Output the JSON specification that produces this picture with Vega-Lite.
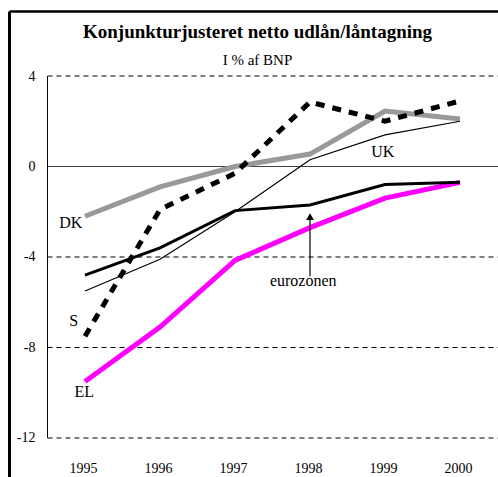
{
  "$schema": "https://vega.github.io/schema/vega-lite/v6.json",
  "width": 489,
  "height": 466,
  "padding": {"left": 9, "top": 11, "right": 0, "bottom": 0},
  "autosize": {"type": "none"},
  "background": "white",
  "config": {
    "view": {"stroke": null},
    "font": "Liberation Serif",
    "axis": {"labelFont": "Liberation Serif", "labelColor": "black", "grid": false, "ticks": false}
  },
  "title": {
    "text": "Konjunkturjusteret netto udlån/låntagning",
    "subtitle": "I % af BNP",
    "font": "Liberation Serif",
    "fontSize": 19,
    "fontWeight": "bold",
    "color": "black",
    "subtitleFont": "Liberation Serif",
    "subtitleFontSize": 15,
    "subtitleColor": "black",
    "subtitlePadding": 11,
    "anchor": "middle",
    "frame": "group",
    "orient": "top",
    "offset": -57,
    "dx": 4
  },
  "datasets": {
    "series": [
      {"series": "DK", "year": 1995, "value": -2.2},
      {"series": "DK", "year": 1996, "value": -0.9},
      {"series": "DK", "year": 1997, "value": 0.0},
      {"series": "DK", "year": 1998, "value": 0.55},
      {"series": "DK", "year": 1999, "value": 2.45},
      {"series": "DK", "year": 2000, "value": 2.1},
      {"series": "S", "year": 1995, "value": -7.5},
      {"series": "S", "year": 1996, "value": -1.9},
      {"series": "S", "year": 1997, "value": -0.3},
      {"series": "S", "year": 1998, "value": 2.85},
      {"series": "S", "year": 1999, "value": 2.0},
      {"series": "S", "year": 2000, "value": 2.9},
      {"series": "UK", "year": 1995, "value": -5.5},
      {"series": "UK", "year": 1996, "value": -4.1},
      {"series": "UK", "year": 1997, "value": -2.0},
      {"series": "UK", "year": 1998, "value": 0.3},
      {"series": "UK", "year": 1999, "value": 1.4},
      {"series": "UK", "year": 2000, "value": 2.0},
      {"series": "eurozonen", "year": 1995, "value": -4.8},
      {"series": "eurozonen", "year": 1996, "value": -3.6},
      {"series": "eurozonen", "year": 1997, "value": -1.95},
      {"series": "eurozonen", "year": 1998, "value": -1.7},
      {"series": "eurozonen", "year": 1999, "value": -0.8},
      {"series": "eurozonen", "year": 2000, "value": -0.7},
      {"series": "EL", "year": 1995, "value": -9.5},
      {"series": "EL", "year": 1996, "value": -7.1},
      {"series": "EL", "year": 1997, "value": -4.15},
      {"series": "EL", "year": 1998, "value": -2.7},
      {"series": "EL", "year": 1999, "value": -1.4},
      {"series": "EL", "year": 2000, "value": -0.7}
    ],
    "grid": [{"v": 4}, {"v": -4}, {"v": -8}, {"v": -12}, {"v": 0}],
    "labels": [
      {"label": "DK", "year": 1994.81, "value": -2.7},
      {"label": "UK", "year": 1998.97, "value": 0.43},
      {"label": "S", "year": 1994.85, "value": -7.06},
      {"label": "EL", "year": 1994.99, "value": -10.19},
      {"label": "eurozonen", "year": 1997.91, "value": -5.3}
    ]
  },
  "resolve": {"axis": {"x": "independent"}},
  "layer": [
    {
      "data": {"name": "grid"},
      "mark": {"type": "rule", "strokeWidth": 1, "color": "black"},
      "encoding": {
        "x": {"datum": 1994.5, "type": "quantitative",
              "scale": {"domain": [1993.98667, 2000.50667], "nice": false, "zero": false},
              "axis": {"orient": "top", "domain": true, "domainColor": "black", "domainWidth": 2.5, "labels": false, "ticks": false, "grid": false, "title": null}},
        "x2": {"datum": 2000.6},
        "y": {"field": "v", "type": "quantitative",
              "scale": {"domain": [-13.724, 6.873], "nice": false, "zero": false},
              "axis": {"orient": "left", "values": [4, 0, -4, -8, -12], "labelExpr": "'' + datum.value", "domain": true, "domainColor": "black", "domainWidth": 3, "ticks": false, "grid": false, "labelPadding": -26, "labelFontSize": 14, "labelColor": "black", "labelOverlap": false, "labelBound": false, "labelFlush": false, "title": null}},
        "strokeDash": {"condition": {"test": "datum.v === 0", "value": [1, 0]}, "value": [5, 4]}
      }
    },
    {
      "data": {"values": [{"axis": "y"}]},
      "mark": {"type": "rule", "strokeWidth": 1, "color": "black"},
      "encoding": {
        "x": {"datum": 1994.5, "type": "quantitative", "scale": {"domain": [1993.98667, 2000.50667], "nice": false, "zero": false}, "axis": null},
        "y": {"datum": 4, "type": "quantitative"},
        "y2": {"datum": -12}
      }
    },
    {
      "data": {"name": "series"},
      "transform": [{"filter": "datum.series === 'EL'"}],
      "mark": {"type": "line", "color": "#FF00FF", "strokeWidth": 5},
      "encoding": {
        "x": {"field": "year", "type": "quantitative", "scale": {"domain": [1993.98667, 2000.50667], "nice": false, "zero": false},
              "axis": {"orient": "bottom", "values": [1995, 1996, 1997, 1998, 1999, 2000], "format": "d", "domain": false, "ticks": false, "grid": false, "labelPadding": -5, "labelBaseline": "alphabetic", "labelFontSize": 14, "labelColor": "black", "labelOverlap": false, "labelBound": false, "labelFlush": false, "labelOffset": -2, "title": null}},
        "y": {"field": "value", "type": "quantitative"}
      }
    },
    {
      "data": {"name": "series"},
      "transform": [{"filter": "datum.series === 'DK'"}],
      "mark": {"type": "line", "color": "#999999", "strokeWidth": 5},
      "encoding": {
        "x": {"field": "year", "type": "quantitative", "scale": {"domain": [1993.98667, 2000.50667], "nice": false, "zero": false}, "axis": null},
        "y": {"field": "value", "type": "quantitative"}
      }
    },
    {
      "data": {"name": "series"},
      "transform": [{"filter": "datum.series === 'UK'"}],
      "mark": {"type": "line", "color": "black", "strokeWidth": 1.2},
      "encoding": {
        "x": {"field": "year", "type": "quantitative", "scale": {"domain": [1993.98667, 2000.50667], "nice": false, "zero": false}, "axis": null},
        "y": {"field": "value", "type": "quantitative"}
      }
    },
    {
      "data": {"name": "series"},
      "transform": [{"filter": "datum.series === 'eurozonen'"}],
      "mark": {"type": "line", "color": "black", "strokeWidth": 3},
      "encoding": {
        "x": {"field": "year", "type": "quantitative", "scale": {"domain": [1993.98667, 2000.50667], "nice": false, "zero": false}, "axis": null},
        "y": {"field": "value", "type": "quantitative"}
      }
    },
    {
      "data": {"name": "series"},
      "transform": [{"filter": "datum.series === 'S'"}],
      "mark": {"type": "line", "color": "black", "strokeWidth": 5, "strokeDash": [9, 8]},
      "encoding": {
        "x": {"field": "year", "type": "quantitative", "scale": {"domain": [1993.98667, 2000.50667], "nice": false, "zero": false}, "axis": null},
        "y": {"field": "value", "type": "quantitative"}
      }
    },
    {
      "data": {"values": [{"label": "eurozonen", "from": -4.85, "to": -2.3}]},
      "mark": {"type": "rule", "color": "black", "strokeWidth": 1.2},
      "encoding": {
        "x": {"datum": 1998, "type": "quantitative", "scale": {"domain": [1993.98667, 2000.50667], "nice": false, "zero": false}, "axis": null},
        "y": {"field": "from", "type": "quantitative"},
        "y2": {"field": "to"}
      }
    },
    {
      "data": {"values": [{"label": "eurozonen", "to": -2.22}]},
      "mark": {"type": "point", "shape": "triangle-up", "filled": true, "color": "black", "size": 60, "opacity": 1},
      "encoding": {
        "x": {"datum": 1998, "type": "quantitative", "scale": {"domain": [1993.98667, 2000.50667], "nice": false, "zero": false}, "axis": null},
        "y": {"field": "to", "type": "quantitative"}
      }
    },
    {
      "data": {"name": "labels"},
      "mark": {"type": "text", "font": "Liberation Serif", "fontSize": 16, "color": "black", "align": "center", "baseline": "alphabetic"},
      "encoding": {
        "x": {"field": "year", "type": "quantitative", "scale": {"domain": [1993.98667, 2000.50667], "nice": false, "zero": false}, "axis": null},
        "y": {"field": "value", "type": "quantitative"},
        "text": {"field": "label"}
      }
    }
  ]
}
